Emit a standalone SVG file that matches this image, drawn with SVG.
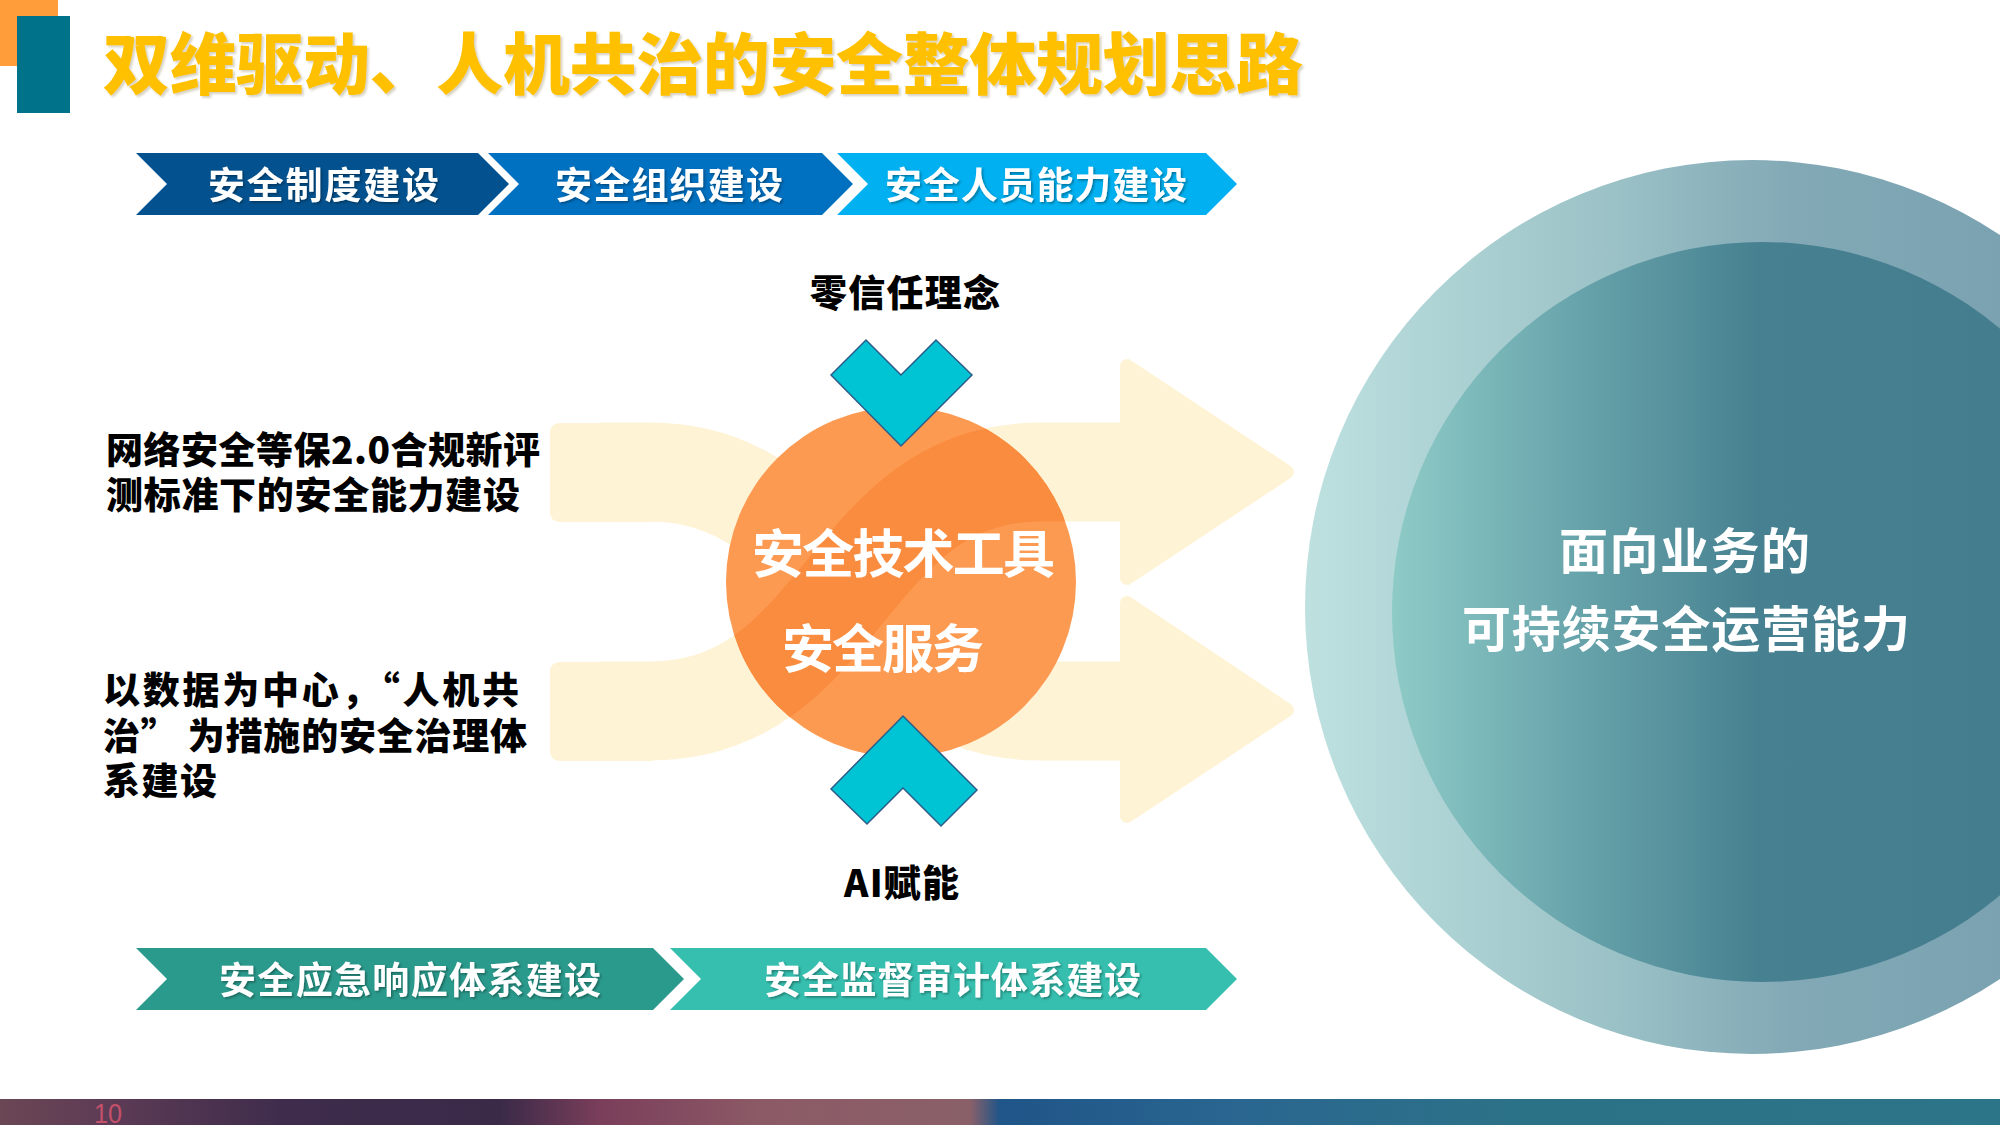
<svg xmlns="http://www.w3.org/2000/svg" width="2000" height="1125" viewBox="0 0 2000 1125">
  <defs>
    <style>
      .cjk { font-family: "Noto Sans CJK SC", "Noto Sans", sans-serif; font-weight: 700; }
      .heavy { font-weight: 900; }
      .chev-t { fill: #ffffff; font-size: 37px; }
      .lbl { fill: #000000; font-size: 37px; }
      .side { fill: #000000; font-size: 37px; }
      .core { fill: #ffffff; font-size: 52px; }
      .goal { fill: #ffffff; font-size: 49px; }
      .bg-arrow { fill: none; stroke: #FFF3D6; stroke-width: 99; }
      .bg-head { fill: #FFF3D6; stroke: #FFF3D6; stroke-width: 14; stroke-linejoin: round; }
      .vmark { fill: #00C3D3; stroke: #2E5C8A; stroke-width: 1.5; }
    </style>
    <filter id="sh" x="-5%" y="-20%" width="110%" height="140%">
      <feDropShadow dx="1.5" dy="1.5" stdDeviation="0.8" flood-color="#000" flood-opacity="0.35"/>
    </filter>
    <filter id="shT" x="-5%" y="-20%" width="110%" height="140%">
      <feDropShadow dx="2" dy="2" stdDeviation="1" flood-color="#7a6a3a" flood-opacity="0.3"/>
    </filter>
    <linearGradient id="gOuter" gradientUnits="userSpaceOnUse" x1="1304" y1="0" x2="2000" y2="0">
      <stop offset="0" stop-color="#BEE1E0"/>
      <stop offset="0.45" stop-color="#9AC1C6"/>
      <stop offset="0.7" stop-color="#82A9B5"/>
      <stop offset="1" stop-color="#7AA2B1"/>
    </linearGradient>
    <linearGradient id="gInner" gradientUnits="userSpaceOnUse" x1="1392" y1="0" x2="2000" y2="0">
      <stop offset="0" stop-color="#8ECBC7"/>
      <stop offset="0.3" stop-color="#68A4AB"/>
      <stop offset="0.6" stop-color="#478191"/>
      <stop offset="1" stop-color="#447D8E"/>
    </linearGradient>
    <linearGradient id="gBar" gradientUnits="userSpaceOnUse" x1="0" y1="0" x2="2000" y2="0">
      <stop offset="0" stop-color="#6B4654"/>
      <stop offset="0.05" stop-color="#5E3C55"/>
      <stop offset="0.14" stop-color="#3F2C4C"/>
      <stop offset="0.25" stop-color="#3A2A48"/>
      <stop offset="0.3" stop-color="#7A3E5A"/>
      <stop offset="0.38" stop-color="#8C5A66"/>
      <stop offset="0.485" stop-color="#8A6068"/>
      <stop offset="0.5" stop-color="#1F5588"/>
      <stop offset="0.62" stop-color="#2A6690"/>
      <stop offset="0.76" stop-color="#2C7287"/>
      <stop offset="1" stop-color="#2C7488"/>
    </linearGradient>
    <clipPath id="clipCore">
      <circle cx="901" cy="582" r="175"/>
    </clipPath>
  </defs>

  <rect width="2000" height="1125" fill="#ffffff"/>

  <!-- title -->
  <g id="title">
    <rect x="0" y="0" width="58" height="66" fill="#FF9D3A"/>
    <rect x="17" y="16" width="53" height="97" fill="#00738B"/>
    <text class="cjk heavy" x="103" y="89" font-size="67" fill="#FFC000" textLength="1200" lengthAdjust="spacing" filter="url(#shT)">双维驱动、人机共治的安全整体规划思路</text>
  </g>

  <!-- top chevrons -->
  <g id="chev-top-1">
    <polygon points="136,153 478,153 509,184 478,215 136,215 167,184" fill="#03528F"/>
    <text class="cjk chev-t" x="208" y="199" textLength="231" lengthAdjust="spacing" filter="url(#sh)">安全制度建设</text>
  </g>
  <g id="chev-top-2">
    <polygon points="488,153 822,153 853,184 822,215 488,215 519,184" fill="#0070C0"/>
    <text class="cjk chev-t" x="555" y="199" textLength="228" lengthAdjust="spacing" filter="url(#sh)">安全组织建设</text>
  </g>
  <g id="chev-top-3">
    <polygon points="837,153 1206,153 1237,184 1206,215 837,215 868,184" fill="#00B0F0"/>
    <text class="cjk chev-t" x="885" y="199" textLength="302" lengthAdjust="spacing" filter="url(#sh)">安全人员能力建设</text>
  </g>

  <!-- bottom chevrons -->
  <g id="chev-bot-1">
    <polygon points="136,948 653,948 684,979 653,1010 136,1010 167,979" fill="#2A9A8C"/>
    <text class="cjk chev-t" x="219" y="994" textLength="382" lengthAdjust="spacing" filter="url(#sh)">安全应急响应体系建设</text>
  </g>
  <g id="chev-bot-2">
    <polygon points="670,948 1206,948 1237,979 1206,1010 670,1010 701,979" fill="#36BFAF"/>
    <text class="cjk chev-t" x="764" y="994" textLength="377" lengthAdjust="spacing" filter="url(#sh)">安全监督审计体系建设</text>
  </g>

  <!-- connectors: crossing background arrows -->
  <g id="connectors">
    <rect x="550" y="423" width="110" height="99" rx="9" fill="#FFF3D6"/>
    <rect x="550" y="662" width="110" height="99" rx="9" fill="#FFF3D6"/>
    <path class="bg-arrow" d="M600,472 H650 C845,472 845,711 1040,711 H1127"/>
    <path class="bg-arrow" d="M600,711 H650 C845,711 845,472 1040,472 H1127"/>
    <polygon class="bg-head" points="1127,603 1287,710 1127,816"/>
    <polygon class="bg-head" points="1127,366 1287,472 1127,578"/>
  </g>

  <!-- core circle -->
  <g id="core">
    <circle cx="901" cy="582" r="175" fill="#FD9A52"/>
    <g clip-path="url(#clipCore)">
      <path d="M600,711 H650 C845,711 845,472 1040,472 H1127" fill="none" stroke="#FA8C3F" stroke-width="99"/>
    </g>
    <text class="cjk core" x="752" y="573" textLength="303" lengthAdjust="spacing">安全技术工具</text>
    <text class="cjk core" x="782" y="668" textLength="202" lengthAdjust="spacing">安全服务</text>
  </g>

  <!-- zero trust marker -->
  <g id="zero-trust">
    <text class="cjk heavy lbl" x="810" y="307" textLength="190" lengthAdjust="spacing">零信任理念</text>
    <polygon class="vmark" points="866,340 901,375 936,340 972,375 901,446 831,375"/>
  </g>

  <!-- AI marker -->
  <g id="ai">
    <polygon class="vmark" points="903,716 977,790 941,826 903,788 867,824 831,789"/>
    <text class="cjk heavy lbl" x="844" y="897" textLength="115" lengthAdjust="spacing">AI赋能</text>
  </g>

  <!-- left texts -->
  <g id="left-1">
    <text class="cjk heavy side" x="106" y="464" textLength="434" lengthAdjust="spacing">网络安全等保2.0合规新评</text>
    <text class="cjk heavy side" x="106" y="509" textLength="414" lengthAdjust="spacing">测标准下的安全能力建设</text>
  </g>
  <g id="left-2">
    <text class="cjk heavy side" x="103" y="704" textLength="416" lengthAdjust="spacing">以数据为中心，“人机共</text>
    <text class="cjk heavy side" x="103" y="750" textLength="424" lengthAdjust="spacing">治” 为措施的安全治理体</text>
    <text class="cjk heavy side" x="103" y="795" textLength="114" lengthAdjust="spacing">系建设</text>
  </g>

  <!-- goal circle -->
  <g id="goal">
    <circle cx="1752" cy="607" r="447" fill="url(#gOuter)"/>
    <circle cx="1762" cy="612" r="370" fill="url(#gInner)"/>
    <text class="cjk goal" x="1559" y="569" textLength="251" lengthAdjust="spacing">面向业务的</text>
    <text class="cjk goal" x="1462" y="647" textLength="448" lengthAdjust="spacing">可持续安全运营能力</text>
  </g>

  <!-- footer bar -->
  <g id="footer">
    <rect x="0" y="1099" width="2000" height="26" fill="url(#gBar)"/>
    <text x="94" y="1123" font-family="Liberation Sans, Arial, sans-serif" font-size="27" fill="#C4506A" textLength="28" lengthAdjust="spacingAndGlyphs">10</text>
  </g>
</svg>
